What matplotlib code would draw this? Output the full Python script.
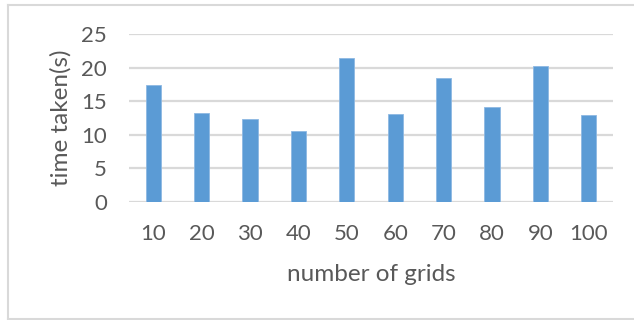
import matplotlib

matplotlib.use("Agg")
import matplotlib.pyplot as plt
from matplotlib.lines import Line2D

grids = ["10", "20", "30", "40", "50", "60", "70", "80", "90", "100"]
time_taken = [17.4, 13.25, 12.3, 10.55, 21.5, 13.05, 18.5, 14.1, 20.3, 12.95]
y_ticks = [0, 5, 10, 15, 20, 25]

BAR = "#5B9BD5"
GRID = "#D9D9D9"
TEXT = "#595959"

plt.rcParams["font.family"] = ["Lato", "DejaVu Sans"]

W, H = 634, 320
fig = plt.figure(figsize=(W / 100, H / 100), dpi=100)
ax = fig.add_axes([129 / W, 1 - 201.7 / H, (613 - 129) / W, (201.7 - 34.3) / H])

x = list(range(len(grids)))
ax.bar(x, time_taken, width=0.31, color=BAR, edgecolor="#8DB8E3", linewidth=0.6, zorder=3)

ax.set_xlim(-0.5, len(grids) - 0.5)
ax.set_ylim(0, 25)
ax.set_yticks(y_ticks)
ax.set_xticks(x)
ax.set_xticklabels(grids)
ax.yaxis.grid(True, color=GRID, lw=1.6, zorder=0)
ax.tick_params(axis="both", length=0, labelsize=16, colors=TEXT)
ax.tick_params(axis="x", pad=16)
ax.tick_params(axis="y", pad=16)
for s in ax.spines.values():
    s.set_visible(False)

ax.set_xlabel("number of grids", fontsize=17.5, color=TEXT)
ax.set_ylabel("time taken(s)", fontsize=17.5, color=TEXT)
ax.xaxis.set_label_coords(0.5, -0.37)
ax.yaxis.set_label_coords(-0.118, 0.5)

# chart frame (right side runs off the canvas)
fx = lambda px: px / W
fy = lambda py: 1 - py / H
for xs, ys in [((8, 8), (5, 319)), ((8, W + 2), (5, 5)), ((8, W + 2), (319, 319))]:
    fig.add_artist(Line2D([fx(v) for v in xs], [fy(v) for v in ys], color="#D9D9D9", lw=1.5))

fig.savefig("out.png", dpi=100)
